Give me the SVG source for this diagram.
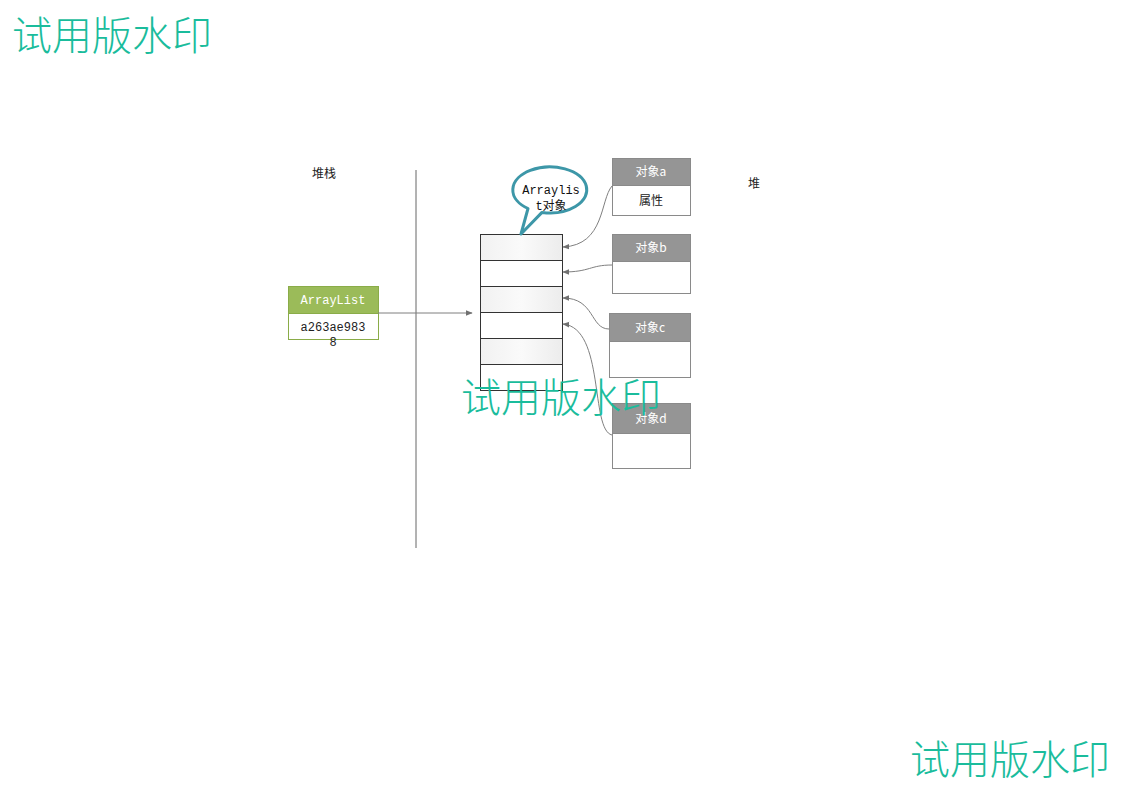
<svg xmlns="http://www.w3.org/2000/svg" width="1123" height="794" viewBox="0 0 1123 794">
<style>
.wm{font-family:"Noto Sans CJK SC","Noto Sans CJK JP",sans-serif;font-size:40px;fill:#1abc9c;font-weight:300}
.lbl{font-family:"Noto Sans CJK SC",sans-serif;font-size:12px;fill:#222}
.mono{font-family:"Liberation Mono","Noto Sans CJK SC",monospace;font-size:12px}
.hdr{fill:#959595;stroke:#8a8a8a}
.body{fill:#fff;stroke:#8a8a8a}
.cell{stroke:#333;stroke-width:1}
.conn{fill:none;stroke:#7f7f7f;stroke-width:1}
</style>
<defs>
<linearGradient id="g" x1="0" x2="1" y1="0" y2="0">
<stop offset="0" stop-color="#f1f1f1"/><stop offset="0.5" stop-color="#fafafa"/><stop offset="1" stop-color="#ececec"/>
</linearGradient>
<marker id="ah" viewBox="0 0 10 10" refX="9" refY="5" markerWidth="7" markerHeight="7" orient="auto">
<path d="M0,1 L10,5 L0,9 z" fill="#707070"/>
</marker>
</defs>
<rect width="1123" height="794" fill="#fff"/>
<g id="labels">
<text class="lbl" x="324" y="178" text-anchor="middle">堆栈</text>
<text class="lbl" x="754" y="188" text-anchor="middle">堆</text>
</g>
<g id="divider"><line x1="416" y1="170" x2="416" y2="548" stroke="#666"/></g>
<g id="arraylist">
<rect x="288.5" y="286.5" width="90" height="27" fill="#9bbb59" stroke="#8aac48"/>
<rect x="288.5" y="313.5" width="90" height="26" fill="#fff" stroke="#8aac48"/>
<text class="mono" x="333" y="304" text-anchor="middle" fill="#fff">ArrayList</text>
<text class="mono" x="333" y="331" text-anchor="middle" fill="#222">a263ae983</text>
<text class="mono" x="333" y="346" text-anchor="middle" fill="#222">8</text>
</g>
<g id="array">
<rect class="cell" x="480.5" y="234.5" width="82" height="26" fill="url(#g)"/>
<rect class="cell" x="480.5" y="260.5" width="82" height="26" fill="#fff"/>
<rect class="cell" x="480.5" y="286.5" width="82" height="26" fill="url(#g)"/>
<rect class="cell" x="480.5" y="312.5" width="82" height="26" fill="#fff"/>
<rect class="cell" x="480.5" y="338.5" width="82" height="26" fill="url(#g)"/>
<rect class="cell" x="480.5" y="364.5" width="82" height="26" fill="#fff"/>
</g>
<g id="callout">
<path d="M521,234 L528,208.5 A37,23 0 1 1 542,212.4 Z" fill="#fff" stroke="#3d97a8" stroke-width="3" stroke-linejoin="round"/>
<text class="mono" x="551" y="194" text-anchor="middle" fill="#111">Arraylis</text>
<text class="mono" x="551" y="210" text-anchor="middle" fill="#111">t对象</text>
</g>
<g id="obj-a">
<rect class="hdr" x="612.5" y="158.5" width="78" height="27"/>
<rect class="body" x="612.5" y="185.5" width="78" height="30"/>
<text class="lbl" x="651" y="176" text-anchor="middle" style="fill:#fff">对象a</text>
<text class="lbl" x="651" y="205" text-anchor="middle">属性</text>
</g>
<g id="obj-b">
<rect class="hdr" x="612.5" y="234.5" width="78" height="27"/>
<rect class="body" x="612.5" y="261.5" width="78" height="32"/>
<text class="lbl" x="651" y="252" text-anchor="middle" style="fill:#fff">对象b</text>
</g>
<g id="obj-c">
<rect class="hdr" x="609.5" y="313.5" width="81" height="28"/>
<rect class="body" x="609.5" y="341.5" width="81" height="36"/>
<text class="lbl" x="650" y="332" text-anchor="middle" style="fill:#fff">对象c</text>
</g>
<g id="obj-d">
<rect class="hdr" x="612.5" y="403.5" width="78" height="30"/>
<rect class="body" x="612.5" y="433.5" width="78" height="35"/>
<text class="lbl" x="651" y="423" text-anchor="middle" style="fill:#fff">对象d</text>
</g>
<g id="connectors">
<line class="conn" x1="378" y1="313" x2="472" y2="313" marker-end="url(#ah)"/>
<path class="conn" d="M612,186 C600,200 605,245 563,247" marker-end="url(#ah)"/>
<path class="conn" d="M612,265 C590,265 590,272 563,272" marker-end="url(#ah)"/>
<path class="conn" d="M609,329 C590,329 595,298 563,298" marker-end="url(#ah)"/>
<path class="conn" d="M612,435 C590,430 605,328 563,324" marker-end="url(#ah)"/>
</g>
<g id="watermarks">
<text class="wm" x="12" y="50">试用版水印</text>
<text class="wm" x="461" y="412">试用版水印</text>
<text class="wm" x="910" y="774">试用版水印</text>
</g>
</svg>
